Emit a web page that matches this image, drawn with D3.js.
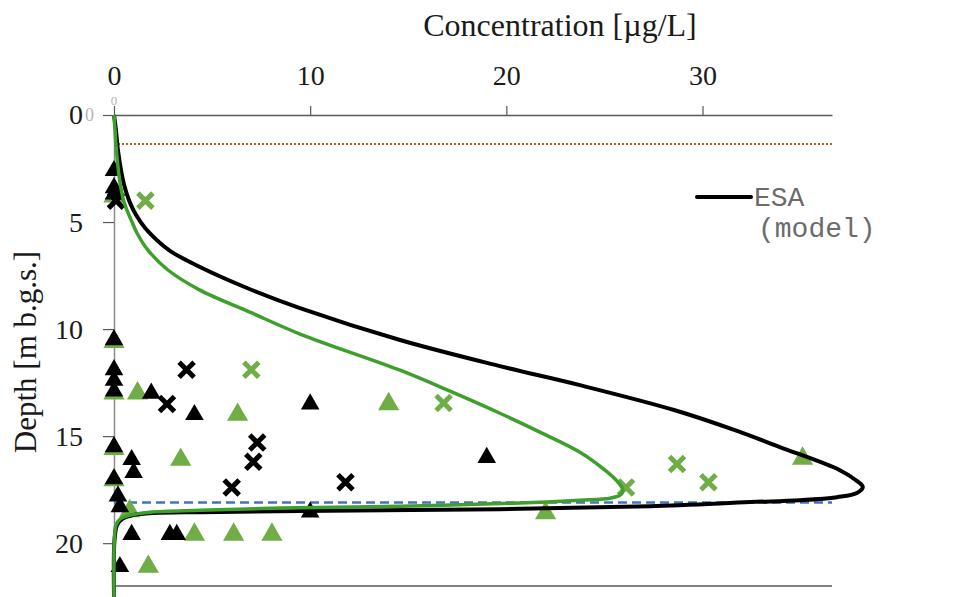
<!DOCTYPE html>
<html><head><meta charset="utf-8">
<script src="https://cdn.jsdelivr.net/npm/d3@7"></script>
<style>
body{margin:0;background:#fff;}
svg{display:block;}
</style></head>
<body><svg id="c" width="966" height="597"></svg>
<script>
// ---- data ----
const xTicks = [0, 10, 20, 30];
const yTicks = [0, 5, 10, 15, 20];
const xTitle = "Concentration [µg/L]";
const yTitle = "Depth [m b.g.s.]";
const legendLabel = ["ESA", "(model)"];

// model curves: [concentration, depth]
const esaModel = [
  [0,0],[0.10,0.70],[0.20,1.64],[0.49,3.18],[0.76,3.97],[0.99,4.44],[1.36,5.00],[1.81,5.51],
  [2.80,6.31],[4.38,7.10],[6.78,8.08],[9.48,9.02],[14.58,10.51],[19.67,11.73],[23.75,12.62],
  [28.59,13.79],[31.65,14.72],[33.94,15.51],[37.0,16.59],[37.82,17.06],[38.17,17.38],
  [37.87,17.66],[36.85,17.85],[34.97,17.99],[32.42,18.08],[27.32,18.27],[19.67,18.41],
  [9.48,18.50],[4.38,18.55],[1.83,18.60],[0.97,18.69],[0.41,18.88],[0.15,19.16],
  [0.05,19.63],[0,20.33],[0,22.5]
];
const greenModel = [
  [0,0],[0.05,0.70],[0.12,1.64],[0.31,3.18],[0.48,3.97],[0.66,4.44],[0.92,5.0],[1.17,5.51],
  [1.73,6.31],[2.75,7.24],[4.38,8.18],[6.93,9.21],[9.48,10.23],[14.58,11.92],[17.13,12.90],
  [19.67,13.93],[21.71,14.81],[23.75,15.75],[25.03,16.59],[25.69,17.15],[25.94,17.52],
  [25.79,17.76],[25.28,17.90],[23.75,17.99],[20.34,18.13],[14.58,18.27],[8.46,18.36],
  [4.38,18.46],[1.83,18.55],[0.82,18.69],[0.31,18.88],[0.10,19.16],[0.03,19.63],
  [0,20.33],[0,22.5]
];

// observations: [concentration, depth]
const blackTriangles = [
  [0,2.6],[0,3.4],[0,3.7],[0,10.5],[0,11.9],[0,12.4],[0,12.9],[1.9,13.0],[4.1,14.0],
  [10.0,13.5],[0,15.5],[0.9,16.1],[1.0,16.7],[0,17.0],[19.0,16.0],[0.2,17.8],[0.3,18.3],
  [10.0,18.55],[0.9,19.6],[2.85,19.6],[3.2,19.6],[0.3,21.1]
];
const greenTriangles = [
  [0,3.8],[0,10.6],[0,13.0],[1.2,13.0],[6.3,14.0],[14.0,13.5],[0,15.6],[3.4,16.1],
  [0,17.05],[35.1,16.05],[0.8,18.5],[22.0,18.6],[4.1,19.6],[6.1,19.6],[8.05,19.6],[1.75,21.1]
];
const blackCrosses = [
  [0.1,4.0],[3.7,11.9],[2.7,13.5],[7.3,15.3],[7.1,16.2],[6.0,17.4],[11.8,17.15]
];
const greenCrosses = [
  [1.6,4.0],[7.0,11.9],[16.8,13.45],[26.1,17.4],[28.7,16.3],[30.3,17.15]
];
const orangeLevel = 1.36;
const blueLevel = 18.1;

// ---- drawing ----
const svg = d3.select("#c");
const x = d3.scaleLinear().domain([0, 36.6]).range([114, 832]);
const y = d3.scaleLinear().domain([0, 22]).range([115, 586]);
const serif = "'Liberation Serif','Times New Roman',serif";

// bottom frame line
svg.append("line").attr("x1", x(0)).attr("x2", x(36.6)).attr("y1", y(22)).attr("y2", y(22))
  .attr("stroke", "#595959").attr("stroke-width", 1.5);

// top axis
const gx = svg.append("g").attr("transform", `translate(0,${y(0)})`)
  .call(d3.axisTop(x).tickValues(xTicks).tickSize(9).tickSizeOuter(0).tickPadding(21).tickFormat(d3.format("d")));
gx.select(".domain").attr("stroke", "#595959").attr("stroke-width", 1.5);
gx.selectAll(".tick line").attr("stroke", "#595959").attr("stroke-width", 1.2);
gx.selectAll(".tick text").attr("font-family", serif).attr("font-size", 28).attr("fill", "#1a1a1a");

// left axis
const gy = svg.append("g").attr("transform", `translate(${x(0)},0)`)
  .call(d3.axisLeft(y).tickValues(yTicks).tickSize(11).tickSizeOuter(0).tickPadding(20).tickFormat(d3.format("d")));
gy.select(".domain").attr("stroke", "#8c8c8c").attr("stroke-width", 1.5);
gy.selectAll(".tick line").attr("stroke", "#595959").attr("stroke-width", 1.2);
gy.selectAll(".tick text").attr("font-family", serif).attr("font-size", 28).attr("fill", "#1a1a1a");

// ghost zero labels (secondary axis)
svg.append("text").attr("x", x(0)).attr("y", 105).attr("text-anchor", "middle")
  .attr("font-family", serif).attr("font-size", 13).attr("fill", "#b4b4b4").text("0");
svg.append("text").attr("x", 85).attr("y", y(0)).attr("dy", "0.34em")
  .attr("font-family", serif).attr("font-size", 18).attr("fill", "#b4b4b4").text("0");

// titles
svg.append("text").attr("x", 560).attr("y", 36).attr("text-anchor", "middle")
  .attr("font-family", serif).attr("font-size", 32).attr("fill", "#1a1a1a").text(xTitle);
svg.append("text").attr("transform", `translate(36,352) rotate(-90)`).attr("text-anchor", "middle")
  .attr("font-family", serif).attr("font-size", 31).attr("fill", "#1a1a1a").text(yTitle);

// reference lines
svg.append("line").attr("x1", x(0)).attr("x2", x(36.6)).attr("y1", y(orangeLevel)).attr("y2", y(orangeLevel))
  .attr("stroke", "#C55A11").attr("stroke-width", 2).attr("stroke-dasharray", "2,2");
svg.append("line").attr("x1", x(0)).attr("x2", x(36.6)).attr("y1", y(blueLevel)).attr("y2", y(blueLevel))
  .attr("stroke", "#4472C4").attr("stroke-width", 2.5).attr("stroke-dasharray", "9,5");

// markers
const triG = svg.append("g");
triG.selectAll(".gt").data(greenTriangles).join("path")
  .attr("d", d3.symbol(d3.symbolTriangle, 195))
  .attr("transform", d => `translate(${x(d[0])},${y(d[1])})`).attr("fill", "#70AD47");
triG.selectAll(".bt").data(blackTriangles).join("path")
  .attr("d", d3.symbol(d3.symbolTriangle, 150))
  .attr("transform", d => `translate(${x(d[0])},${y(d[1])})`).attr("fill", "#000");
const crossPath = "M-7.5,-7.5L7.5,7.5M-7.5,7.5L7.5,-7.5";
svg.append("g").selectAll("path").data(greenCrosses).join("path")
  .attr("d", crossPath).attr("transform", d => `translate(${x(d[0])},${y(d[1])})`)
  .attr("stroke", "#70AD47").attr("stroke-width", 5).attr("fill", "none");
svg.append("g").selectAll("path").data(blackCrosses).join("path")
  .attr("d", crossPath).attr("transform", d => `translate(${x(d[0])},${y(d[1])})`)
  .attr("stroke", "#000").attr("stroke-width", 5).attr("fill", "none");

// model curves
const line = d3.line().x(d => x(d[0])).y(d => y(d[1])).curve(d3.curveCatmullRom.alpha(0.5));
svg.append("path").datum(esaModel).attr("d", line).attr("fill", "none")
  .attr("stroke", "#000").attr("stroke-width", 4);
svg.append("path").datum(greenModel).attr("d", line).attr("fill", "none")
  .attr("stroke", "#3F9F2D").attr("stroke-width", 3.5);

// legend
svg.append("line").attr("x1", 697).attr("x2", 751).attr("y1", 197).attr("y2", 197)
  .attr("stroke", "#000").attr("stroke-width", 4).attr("stroke-linecap", "round");
const mono = "'Liberation Mono','Courier New',monospace";
svg.append("text").attr("x", 754).attr("y", 206).attr("font-family", mono).attr("font-size", 28)
  .attr("fill", "#6b6b6b").text(legendLabel[0]);
svg.append("text").attr("x", 758).attr("y", 237).attr("font-family", mono).attr("font-size", 28)
  .attr("fill", "#6b6b6b").text(legendLabel[1]);
</script></body></html>
